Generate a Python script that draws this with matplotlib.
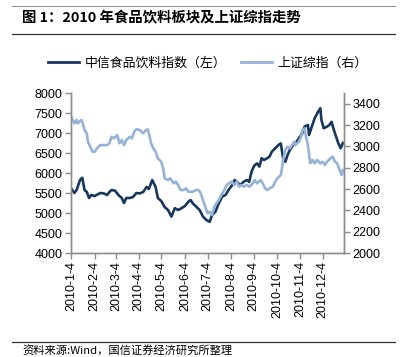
import matplotlib
matplotlib.use('Agg')
import matplotlib.pyplot as plt
from matplotlib.lines import Line2D

plt.rcParams['font.family'] = ['Liberation Sans', 'Noto Sans CJK SC', 'DejaVu Sans']

title = '图 1：2010 年食品饮料板块及上证综指走势'
source = '资料来源:Wind，国信证券经济研究所整理'
food_name = '中信食品饮料指数（左）'
sse_name = '上证综指（右）'

# x axis is trading-day index of 2010
tick_days = [0, 21, 40, 60, 80, 101, 121, 142, 162, 183, 203, 223]
tick_labels = ['2010-1-4', '2010-2-4', '2010-3-4', '2010-4-4', '2010-5-4', '2010-6-4',
               '2010-7-4', '2010-8-4', '2010-9-4', '2010-10-4', '2010-11-4', '2010-12-4']

# 中信食品饮料指数 (left axis)
food_day = [0, 3, 5, 8, 10, 12, 14, 16, 18, 21, 26, 29, 32, 34, 36, 39, 42, 45, 47, 49,
            52, 55, 58, 61, 64, 67, 69, 72, 75, 77, 80, 83, 86, 89, 92, 95, 98, 101, 104, 106,
            108, 111, 114, 117, 120, 123, 125, 128, 131, 134, 137, 140, 143, 145, 147, 150, 153, 156, 158, 160,
            162, 163, 165, 167, 169, 171, 174, 176, 178, 181, 184, 186, 188, 190, 192, 194, 197, 200, 202, 205,
            207, 210, 211, 213, 216, 219, 221, 222, 224, 227, 229, 231, 233, 235, 237, 239, 241]
food_val = [5625, 5500, 5575, 5825, 5880, 5575, 5525, 5375, 5450, 5425, 5500, 5490, 5450, 5525, 5575, 5560, 5450, 5375, 5250, 5375,
            5375, 5400, 5500, 5490, 5525, 5650, 5600, 5825, 5650, 5375, 5300, 5150, 5075, 4910, 5120, 5075, 5120, 5175, 5280, 5325,
            5240, 5160, 5075, 4910, 4825, 4780, 4950, 5030, 5240, 5410, 5450, 5590, 5700, 5825, 5780, 5700, 5780, 5825, 5780, 6030,
            6160, 6200, 6240, 6160, 6370, 6325, 6370, 6410, 6530, 6620, 6700, 6740, 6370, 6280, 6450, 6575, 6700, 6780, 6870, 6990,
            7160, 7200, 6950, 7120, 7370, 7530, 7620, 7325, 7120, 7160, 7200, 7280, 7075, 6910, 6740, 6620, 6750]

# 上证综指 (right axis)
sse_day = [0, 3, 5, 6, 9, 10, 12, 14, 15, 17, 19, 21, 23, 26, 29, 32, 34, 36, 38, 41,
           43, 45, 47, 49, 52, 54, 56, 58, 61, 64, 66, 68, 69, 71, 73, 75, 77, 80, 82, 83,
           86, 88, 91, 93, 95, 97, 100, 102, 104, 106, 108, 111, 113, 115, 117, 119, 121, 123, 125, 127,
           129, 131, 134, 136, 138, 140, 142, 145, 147, 149, 151, 153, 156, 158, 160, 163, 165, 168, 170, 172,
           174, 176, 179, 181, 183, 186, 187, 188, 190, 192, 194, 196, 198, 199, 202, 204, 205, 207, 208, 210,
           211, 212, 214, 216, 218, 221, 223, 225, 227, 230, 232, 234, 236, 238, 240, 241]
sse_val = [3278, 3216, 3247, 3216, 3247, 3231, 3153, 3122, 3044, 2997, 2950, 2950, 2981, 3012, 3012, 3012, 3028, 3090, 3075, 3106,
           3028, 3060, 3012, 3060, 3090, 3075, 3137, 3160, 3153, 3122, 3147, 3160, 3122, 3028, 2981, 2950, 2888, 2856, 2778, 2700,
           2684, 2700, 2653, 2669, 2638, 2591, 2591, 2606, 2575, 2575, 2575, 2591, 2591, 2560, 2497, 2434, 2372, 2388, 2356, 2434,
           2466, 2497, 2560, 2591, 2638, 2653, 2669, 2638, 2669, 2622, 2638, 2622, 2638, 2622, 2638, 2684, 2653, 2684, 2653, 2606,
           2591, 2606, 2622, 2669, 2700, 2731, 2794, 2872, 2966, 2997, 2981, 3012, 3044, 3012, 3044, 3090, 3153, 3169, 3106, 3012,
           2934, 2841, 2872, 2841, 2872, 2841, 2856, 2825, 2856, 2888, 2903, 2856, 2841, 2778, 2731, 2778]

W, H = 408, 357
dark = '#17375E'
light = '#95B3D7'
grey = '#8C8C8C'


def main():
    fig = plt.figure(figsize=(W / 100, H / 100), dpi=100)
    ax = fig.add_axes([71 / W, 1 - 253 / H, (344 - 71) / W, (253 - 93) / H])
    ax2 = ax.twinx()

    ax.plot(food_day, food_val, color=dark, lw=1.9, solid_joinstyle='round')
    ax2.plot(sse_day, sse_val, color=light, lw=1.9, solid_joinstyle='round')

    ax.set_xlim(0, 242)
    ax.set_ylim(4000, 8000)
    ax.set_yticks(range(4000, 8001, 500))
    ax2.set_ylim(2000, 3500)
    ax2.set_yticks(range(2000, 3401, 200))
    ax.set_xticks(tick_days)
    ax.set_xticklabels(tick_labels, rotation=90)

    for a in (ax, ax2):
        a.spines['top'].set_visible(False)
        for s in ('left', 'right', 'bottom'):
            a.spines[s].set_color(grey)
            a.spines[s].set_linewidth(1)
        a.tick_params(colors=grey, labelcolor='black', labelsize=9, length=4, width=1, pad=2)

    handles = [Line2D([], [], color=dark, lw=2), Line2D([], [], color=light, lw=2)]
    fig.legend(handles, [food_name, sse_name], loc='center', bbox_to_anchor=(208 / W, 1 - 63 / H),
               ncol=2, frameon=False, handlelength=2.4, handletextpad=0.4, columnspacing=1.2,
               prop={'family': ['Noto Sans CJK SC'], 'size': 9.3})

    fig.text(22 / W, 1 - 18 / H, title, fontsize=10.4, fontweight='bold', va='center',
             family=['Noto Sans CJK SC', 'DejaVu Sans'])
    fig.text(22 / W, 1 - 351 / H, source, fontsize=8.1, va='center',
             family=['Noto Sans CJK SC', 'DejaVu Sans'])

    fig.add_artist(Line2D([12 / W, 395 / W], [1 - 6 / H] * 2, color='#999999', lw=0.8))
    fig.add_artist(Line2D([12 / W, 395 / W], [1 - 34 / H] * 2, color='#333333', lw=0.9))
    fig.add_artist(Line2D([12 / W, 395 / W], [1 - 342 / H] * 2, color='#333333', lw=0.9))

    fig.savefig('out.png', dpi=100)


if __name__ == '__main__':
    main()
